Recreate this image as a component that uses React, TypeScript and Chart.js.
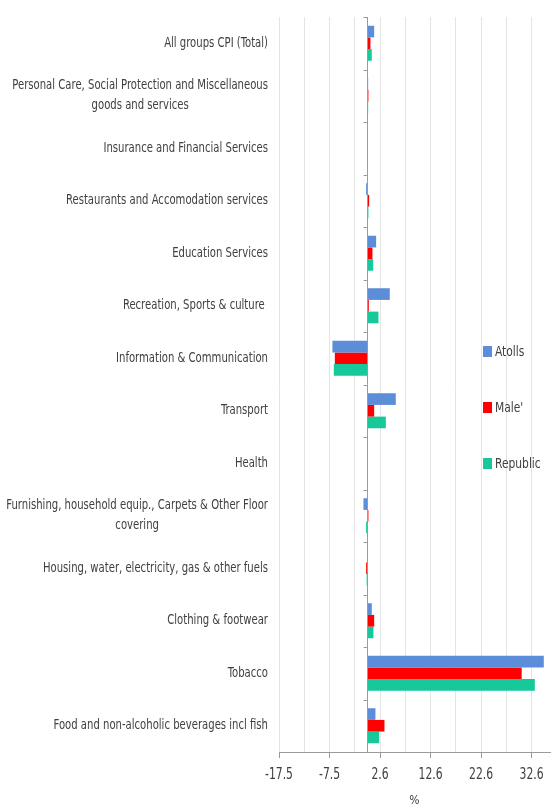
import React, { useEffect, useRef } from "react";
import { Chart, registerables } from "chart.js";

Chart.register(...registerables);

const categories: (string | string[])[] = [
  "All groups CPI (Total)",
  ["Personal Care, Social Protection and Miscellaneous", "goods and services"],
  "Insurance and Financial Services",
  "Restaurants and Accomodation services",
  "Education Services",
  "Recreation, Sports & culture ",
  "Information & Communication",
  "Transport",
  "Health",
  ["Furnishing, household equip., Carpets & Other Floor", "covering"],
  "Housing, water, electricity, gas & other fuels",
  "Clothing & footwear",
  "Tobacco",
  "Food and non-alcoholic beverages incl fish",
];

const seriesNames = ["Atolls", "Male'", "Republic"];
const atolls = [1.39, 0.2, 0, -0.2, 1.78, 4.48, -6.87, 5.67, 0, -0.73, 0, 0.92, 34.97, 1.64];
const male = [0.65, 0.25, 0, 0.4, 1.05, 0.33, -6.4, 1.39, 0, 0.25, -0.2, 1.39, 30.6, 3.43];
const republic = [0.92, 0.2, 0, 0.25, 1.19, 2.24, -6.6, 3.7, 0, -0.2, -0.1, 1.25, 33.2, 2.38];
const seriesColors = ["#5B8DD9", "#FF0000", "#17C99A"];

const xTickValues = [-17.45, -12.45, -7.45, -2.45, 2.55, 7.55, 12.55, 17.55, 22.55, 27.55, 32.55];
const xTickLabels = ["-17.5", "", "-7.5", "", "2.6", "", "12.6", "", "22.6", "", "32.6"];
const xMin = -17.45;
const xMax = 36.2;

const FONT = '"Liberation Sans Narrow", "DejaVu Sans Condensed", "Roboto", sans-serif';
const TEXT = "#404040";

function drawScaledText(ctx: any, text: string, x: number, y: number, sx: number) {
  ctx.save();
  ctx.translate(x, y);
  ctx.scale(sx, 1);
  ctx.fillText(text, 0, 0);
  ctx.restore();
}

const overlayPlugin = {
  id: "overlay",
  afterDatasetsDraw(chart: any) {
    const ctx = chart.ctx;
    const xs = chart.scales.x;
    const ys = chart.scales.y;
    const area = chart.chartArea;
    const x0 = Math.round(xs.getPixelForValue(0)) + 0.5;
    ctx.save();
    ctx.strokeStyle = "#9a9a9a";
    ctx.lineWidth = 1;
    ctx.beginPath();
    ctx.moveTo(x0, area.top);
    ctx.lineTo(x0, area.bottom);
    for (let i = 0; i <= categories.length; i++) {
      const y = Math.round(ys.getPixelForValue(i - 0.5)) + 0.5;
      ctx.moveTo(x0 - 4, y);
      ctx.lineTo(x0, y);
    }
    ctx.stroke();

    // category labels: block right-aligned, lines centered within block
    const sx = 0.8;
    ctx.fillStyle = TEXT;
    ctx.font = `14px ${FONT}`;
    ctx.textBaseline = "middle";
    ctx.textAlign = "center";
    const right = area.left - 11;
    const lh = 20;
    categories.forEach((lab, i) => {
      const lines = Array.isArray(lab) ? lab : [lab];
      const w = Math.max(...lines.map((l) => ctx.measureText(l).width)) * sx;
      const cx = right - w / 2;
      const cy = ys.getPixelForValue(i);
      lines.forEach((l, j) => {
        drawScaledText(ctx, l, cx, cy + (j - (lines.length - 1) / 2) * lh, sx);
      });
    });

    // x tick labels
    ctx.font = `15px ${FONT}`;
    xs.ticks.forEach((t: any, i: number) => {
      const lab = xTickLabels[i];
      if (!lab) return;
      drawScaledText(ctx, lab, xs.getPixelForValue(t.value), area.bottom + 23, 0.8);
    });

    // legend
    ctx.font = `14px ${FONT}`;
    ctx.textAlign = "left";
    const legX = 483;
    const legY0 = 352;
    const legGap = 56;
    chart.data.datasets.forEach((ds: any, i: number) => {
      const y = legY0 + i * legGap;
      ctx.fillStyle = ds.backgroundColor;
      ctx.fillRect(legX, y - 6, 9, 11);
      ctx.fillStyle = TEXT;
      drawScaledText(ctx, ds.label, legX + 12, y, 0.85);
    });
    ctx.restore();
  },
};

export default function App() {
  const ref = useRef<HTMLCanvasElement | null>(null);
  useEffect(() => {
    if (!ref.current) return;
    const chart = new Chart(ref.current, {
      type: "bar",
      data: {
        labels: categories as any,
        datasets: [atolls, male, republic].map((d, i) => ({
          label: seriesNames[i],
          data: d,
          backgroundColor: seriesColors[i],
          borderWidth: 0,
          categoryPercentage: 0.667,
          barPercentage: 1.0,
        })),
      },
      options: {
        indexAxis: "y",
        animation: false,
        responsive: false,
        devicePixelRatio: 1,
        layout: { padding: { left: 0, right: 5, top: 17, bottom: 0 } },
        plugins: {
          legend: { display: false },
          tooltip: { enabled: false },
        },
        scales: {
          x: {
            type: "linear",
            min: xMin,
            max: xMax,
            afterBuildTicks: (s: any) => {
              s.ticks = xTickValues.map((v) => ({ value: v }));
            },
            afterFit: (s: any) => {
              s.height = 53;
            },
            ticks: {
              display: false,
              autoSkip: false,
              maxRotation: 0,
            },
            grid: {
              color: "#e4e4e4",
              tickLength: 6,
              tickColor: (c: any) => (c.index % 2 === 0 ? "#9a9a9a" : "rgba(0,0,0,0)"),
            },
            border: { display: true, color: "#9a9a9a" },
            title: {
              display: true,
              text: "%",
              color: TEXT,
              font: { family: FONT, size: 12 },
              padding: { top: 0, bottom: -3 },
            },
          },
          y: {
            type: "category",
            afterFit: (s: any) => {
              s.width = 279;
            },
            ticks: { display: false },
            grid: { display: false },
            border: { display: false },
          },
        },
      },
      plugins: [overlayPlugin],
    });
    return () => chart.destroy();
  }, []);
  return (
    <div style={{ position: "fixed", left: 0, top: 0, width: 555, height: 805, background: "#fff" }}>
      <canvas ref={ref} width={555} height={805} />
    </div>
  );
}
